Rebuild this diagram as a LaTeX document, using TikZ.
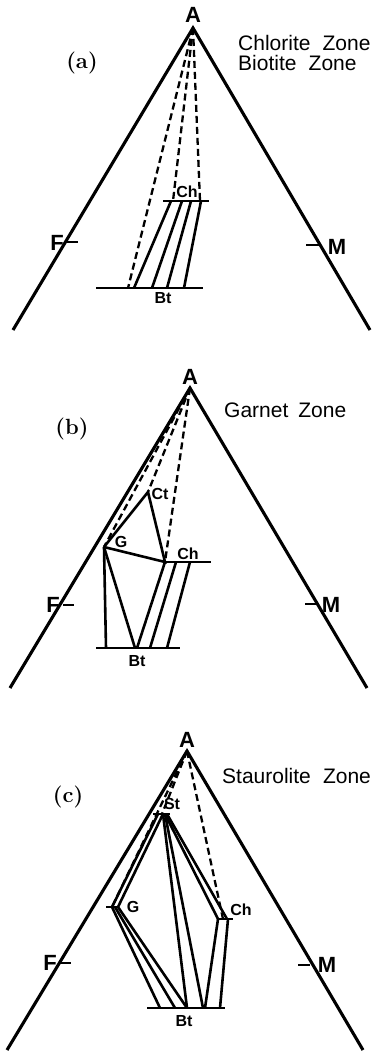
\documentclass[tikz,border=0pt]{standalone}
\usepackage{fontspec}
\setsansfont{Liberation Sans}
\tikzset{
  side/.style={line width=3.1pt},
  tie/.style={line width=2.6pt},
  dashtie/.style={line width=2.3pt, dash pattern=on 7pt off 4pt},
  bar/.style={line width=2.8pt},
  ticky/.style={line width=2.6pt},
  bigl/.style={font=\sffamily\bfseries\fontsize{22}{22}\selectfont, inner sep=0pt},
  minl/.style={font=\sffamily\bfseries\fontsize{16}{16}\selectfont, inner sep=0pt},
  zone/.style={font=\sffamily\fontsize{21}{20}\selectfont, inner sep=0pt, anchor=west, align=left},
  panel/.style={font=\bfseries\fontsize{22}{22}\selectfont, inner sep=0pt}
}
\begin{document}
\begin{tikzpicture}[x=1pt, y=-1pt]
        \useasboundingbox (0,0) rectangle (375,1056);

        % (a) Chlorite / Biotite zone
        \coordinate (aA) at (193,28);
        \coordinate (aL) at (13,330);
        \coordinate (aR) at (370,330);
        \draw[side] (aL) -- (aA) -- (aR);
        \node[bigl] (aAl) at (193,15) {A};
        \coordinate (aFt) at (65,242);
        \coordinate (aFe) at (78,242);
        \draw[ticky] (aFt) -- (aFe);
        \node[bigl] (aF) at (57,243) {F};
        \coordinate (aMt) at (306,245);
        \coordinate (aMe) at (319,245);
        \draw[ticky] (aMt) -- (aMe);
        \node[bigl] (aM) at (337,247) {M};
        \node[panel] (aP) at (82,63) {(a)};
        \node[zone] (aZ) at (238,53) {Chlorite\hspace{.3em} Zone\\[0pt]Biotite\hspace{.3em} Zone};

        \coordinate (aChL) at (163,201);
        \coordinate (aChR) at (209,201);
        \coordinate (aBtL) at (96,288);
        \coordinate (aBtR) at (203,288);
        \draw[bar] (aChL) -- (aChR);
        \draw[bar] (aBtL) -- (aBtR);
        \node[minl] (aCh) at (187,192) {Ch};
        \node[minl] (aBt) at (163,298) {Bt};

        % Ch - Bt tie lines
        \coordinate (aC1) at (171,201);
        \coordinate (aC2) at (182,201);
        \coordinate (aC3) at (191,201);
        \coordinate (aC4) at (201,201);
        \coordinate (aB1) at (134,288);
        \coordinate (aB2) at (152,288);
        \coordinate (aB3) at (167,288);
        \coordinate (aB4) at (184,288);
        \draw[tie] (aC1) -- (aB1);
        \draw[tie] (aC2) -- (aB2);
        \draw[tie] (aC3) -- (aB3);
        \draw[tie] (aC4) -- (aB4);

        % lines to A
        \coordinate (aB0) at (128,288);
        \coordinate (aC0) at (173,201);
        \coordinate (aC5) at (200,201);
        \draw[dashtie] (aA) -- (aB0);
        \draw[dashtie] (aA) -- (aC0);
        \draw[dashtie] (aA) -- (aC5);

        % (b) Garnet zone
        \coordinate (bA) at (190,388);
        \coordinate (bL) at (10,688);
        \coordinate (bR) at (367,688);
        \draw[side] (bL) -- (bA) -- (bR);
        \node[bigl] (bAl) at (190,377) {A};
        \coordinate (bFt) at (63,605);
        \coordinate (bFe) at (74,605);
        \draw[ticky] (bFt) -- (bFe);
        \node[bigl] (bF) at (53,605) {F};
        \coordinate (bMt) at (305,604);
        \coordinate (bMe) at (316,604);
        \draw[ticky] (bMt) -- (bMe);
        \node[bigl] (bM) at (331,605) {M};
        \node[panel] (bP) at (72,429) {(b)};
        \node[zone] (bZ) at (224,410) {Garnet\hspace{.2em} Zone};

        \coordinate (bG) at (104,547);
        \coordinate (bCt) at (148,492);
        \coordinate (bChL) at (165,562);
        \coordinate (bChR) at (211,562);
        \coordinate (bBtL) at (96,648);
        \coordinate (bBtR) at (180,648);
        \draw[bar] (bChL) -- (bChR);
        \draw[bar] (bBtL) -- (bBtR);
        \node[minl] (bCtl) at (160,494) {Ct};
        \node[minl] (bGl) at (121,542) {G};
        \node[minl] (bCh) at (188,554) {Ch};
        \node[minl] (bBt) at (137,661) {Bt};

        % G - Ct - Ch triangle
        \draw[tie] (bG) -- (bCt) -- (bChL) -- (bG);

        % tie lines to Bt
        \coordinate (bC2) at (176,562);
        \coordinate (bC3) at (190,562);
        \coordinate (bB1) at (106,648);
        \coordinate (bB2) at (135,648);
        \coordinate (bB3) at (137,648);
        \coordinate (bB4) at (150,648);
        \coordinate (bB5) at (167,648);
        \draw[tie] (bG) -- (bB1);
        \draw[tie] (bG) -- (bB2);
        \draw[tie] (bChL) -- (bB3);
        \draw[tie] (bC2) -- (bB4);
        \draw[tie] (bC3) -- (bB5);

        % lines to A
        \draw[dashtie] (bA) -- (bG);
        \draw[dashtie] (bA) -- (bCt);
        \draw[dashtie] (bA) -- (bChL);

        % (c) Staurolite zone
        \coordinate (cA) at (187,751);
        \coordinate (cL) at (7,1050);
        \coordinate (cR) at (363,1050);
        \draw[side] (cL) -- (cA) -- (cR);
        \node[bigl] (cAl) at (187,740) {A};
        \coordinate (cFt) at (60,963);
        \coordinate (cFe) at (71,963);
        \draw[ticky] (cFt) -- (cFe);
        \node[bigl] (cF) at (50,963) {F};
        \coordinate (cMt) at (298,965);
        \coordinate (cMe) at (310,965);
        \draw[ticky] (cMt) -- (cMe);
        \node[bigl] (cM) at (327,965) {M};
        \node[panel] (cP) at (68,797) {(c)};
        \node[zone] (cZ) at (222,776) {Staurolite\hspace{.3em} Zone};

        \coordinate (cStL) at (153,814);
        \coordinate (cStR) at (170,814);
        \coordinate (cGL) at (106,907);
        \coordinate (cGR) at (118,907);
        \coordinate (cChL) at (217,919);
        \coordinate (cChR) at (233,919);
        \coordinate (cBtL) at (147,1008);
        \coordinate (cBtR) at (225,1008);
        \draw[bar] (cStL) -- (cStR);
        \draw[bar] (cGL) -- (cGR);
        \draw[bar] (cChL) -- (cChR);
        \draw[bar] (cBtL) -- (cBtR);
        \node[minl] (cSt) at (172,804) {St};
        \node[minl] (cGl) at (133,907) {G};
        \node[minl] (cCh) at (241,910) {Ch};
        \node[minl] (cBt) at (184,1021) {Bt};

        \coordinate (cS1) at (158,814);
        \coordinate (cS2) at (162,814);
        \coordinate (cS3) at (163,814);
        \coordinate (cS4) at (165,814);
        \coordinate (cS5) at (167,814);
        \coordinate (cG1) at (112,907);
        \coordinate (cG2) at (115,907);
        \coordinate (cG3) at (118,907);
        \coordinate (cC1) at (218,919);
        \coordinate (cC2) at (223,919);
        \coordinate (cC3) at (228,919);
        \coordinate (cC4) at (227,919);
        \coordinate (cB1) at (160,1008);
        \coordinate (cB2) at (175,1008);
        \coordinate (cB3) at (187,1008);
        \coordinate (cB4) at (203,1008);
        \coordinate (cB5) at (205,1008);
        \coordinate (cB6) at (220,1008);

        % St - G and G - Bt
        \draw[tie] (cS1) -- (cG1);
        \draw[tie] (cS3) -- (cG3);
        \draw[tie] (cG1) -- (cB1);
        \draw[tie] (cG2) -- (cB2);
        \draw[tie] (cG3) -- (cB3);

        % St - Bt and St - Ch
        \draw[tie] (cS3) -- (cB3);
        \draw[tie] (cS4) -- (cB4);
        \draw[tie] (cS4) -- (cC1);
        \draw[tie] (cS5) -- (cC4);

        % Ch - Bt
        \draw[tie] (cC1) -- (cB5);
        \draw[tie] (cC3) -- (cB6);

        % lines to A
        \draw[dashtie] (cA) -- (cS2);
        \draw[dashtie] (cA) -- (cG1);
        \draw[dashtie] (cA) -- (cC2);
    \end{tikzpicture}
\end{document}
